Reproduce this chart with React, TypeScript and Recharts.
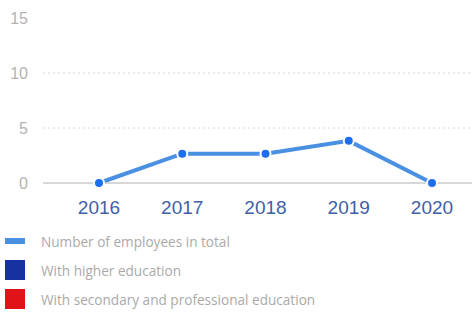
import { LineChart, Line, XAxis, YAxis, ReferenceLine } from "recharts";

const years = ["2016", "2017", "2018", "2019", "2020"];
const totalEmployees = [0, 2.67, 2.67, 3.83, 0];
const yTicks = [0, 5, 10, 15];
const gridValues = [5, 10];

const legendNames = [
  "Number of employees in total",
  "With higher education",
  "With secondary and professional education",
];
const legendColors = ["#4a90e2", "#1632a0", "#e01418"];

const data = years.map((year, i) => ({ year, total: totalEmployees[i] }));

export default function App() {
  return (
    <div style={{ position: "absolute", top: 0, left: 0, width: 472, height: 312, background: "#fff" }}>
      <LineChart width={472} height={225} data={data} margin={{ top: 18, right: 0, bottom: 12, left: 0 }}>
        {gridValues.map((v) => (
          <ReferenceLine key={v} y={v} stroke="#d6d6d6" strokeDasharray="2 3" ifOverflow="extendDomain" />
        ))}
        <XAxis
          dataKey="year"
          padding={{ left: 56, right: 40 }}
          height={30}
          tickLine={false}
          tickSize={0}
          tickMargin={18}
          axisLine={{ stroke: "#b0b0b0" }}
          tick={{ fill: "#4060a8", fontSize: 19, fontFamily: "Liberation Sans, Arial, sans-serif" }}
        />
        <YAxis
          domain={[0, 15]}
          ticks={yTicks}
          width={43}
          axisLine={false}
          tickLine={false}
          tickSize={0}
          tickMargin={15}
          tick={{ fill: "#b3b3b3", fontSize: 16, fontFamily: "Liberation Sans, Arial, sans-serif" }}
        />
        <Line
          type="linear"
          dataKey="total"
          stroke="#4a90e2"
          strokeWidth={4}
          dot={{ r: 5, fill: "#1e6ef0", stroke: "#fff", strokeWidth: 2 }}
          isAnimationActive={false}
        />
      </LineChart>
      <div style={{ fontFamily: "'Open Sans', sans-serif", fontSize: 13.6, color: "#aaaaaa" }}>
        {legendNames.map((name, i) => (
          <div key={name} style={{ position: "absolute", left: 0, top: 229 + i * 29, height: 24, display: "flex", alignItems: "center" }}>
            <span
              style={{
                display: "inline-block",
                marginLeft: 5,
                width: 20,
                height: i === 0 ? 6 : 20,
                background: legendColors[i],
              }}
            />
            <span style={{ marginLeft: 16 }}>{name}</span>
          </div>
        ))}
      </div>
    </div>
  );
}
